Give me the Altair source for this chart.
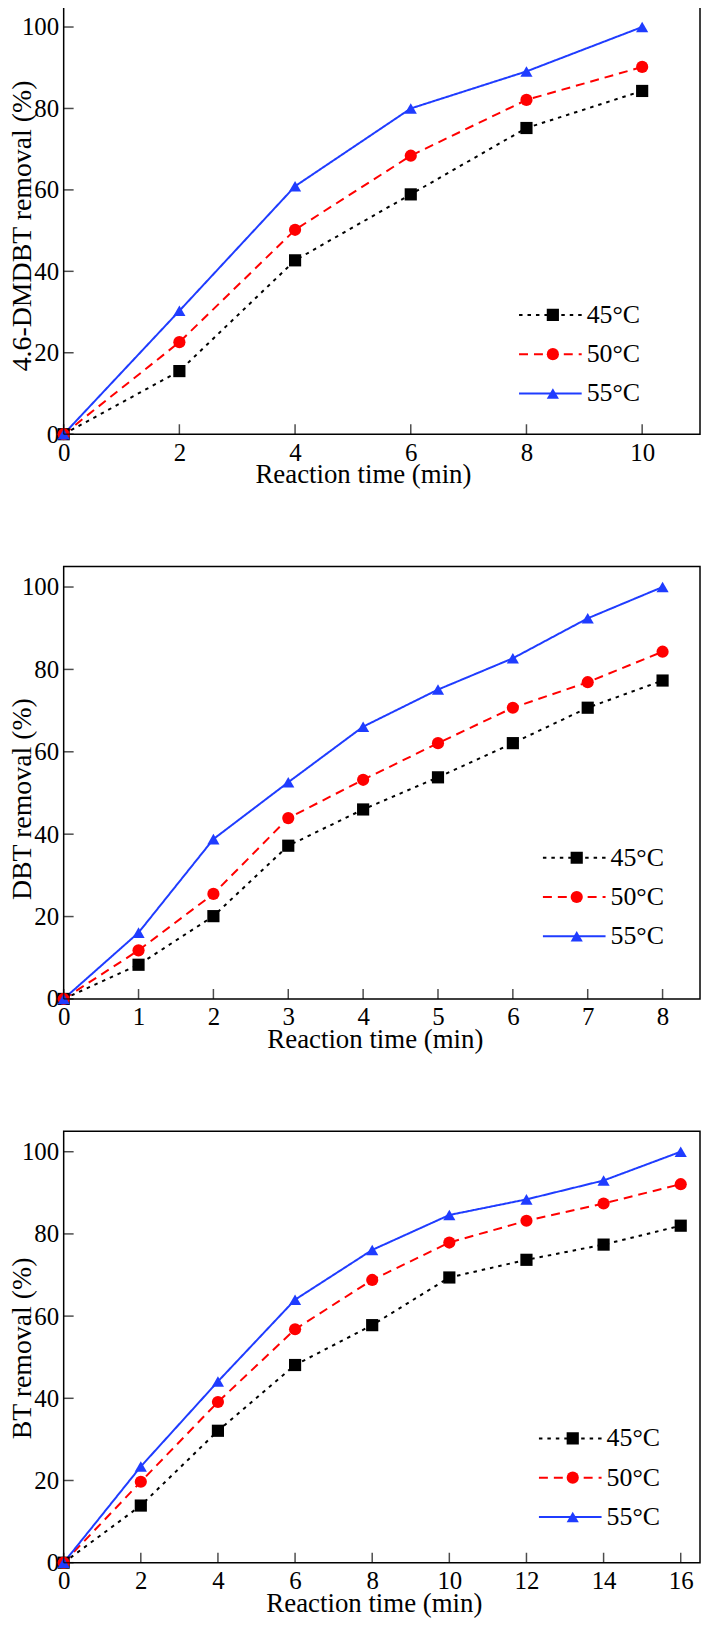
import altair as alt
import pandas as pd

series = ["45°C", "50°C", "55°C"]

# Panel 1: 4.6-DMDBT
time_1 = [0, 2, 4, 6, 8, 10]
dmdbt_45 = [0, 15.5, 42.7, 58.9, 75.2, 84.3]
dmdbt_50 = [0, 22.6, 50.2, 68.4, 82.1, 90.2]
dmdbt_55 = [0, 30.3, 60.9, 80.0, 89.1, 100.0]

# Panel 2: DBT
time_2 = [0, 1, 2, 3, 4, 5, 6, 7, 8]
dbt_45 = [0, 8.3, 20.1, 37.2, 46.0, 53.8, 62.1, 70.7, 77.3]
dbt_50 = [0, 11.8, 25.5, 43.9, 53.2, 62.1, 70.7, 76.9, 84.3]
dbt_55 = [0, 16.1, 38.8, 52.6, 66.1, 75.1, 82.7, 92.4, 100.0]

# Panel 3: BT
time_3 = [0, 2, 4, 6, 8, 10, 12, 14, 16]
bt_45 = [0, 13.9, 32.1, 48.1, 57.8, 69.4, 73.7, 77.4, 82.0]
bt_50 = [0, 19.7, 39.1, 56.8, 68.8, 77.9, 83.2, 87.4, 92.1]
bt_55 = [0, 23.4, 44.1, 64.0, 76.1, 84.6, 88.4, 93.0, 100.0]

x_ticks_1 = [0, 2, 4, 6, 8, 10]
x_ticks_2 = [0, 1, 2, 3, 4, 5, 6, 7, 8]
x_ticks_3 = [0, 2, 4, 6, 8, 10, 12, 14, 16]
y_ticks = [0, 20, 40, 60, 80, 100]

x_title = "Reaction time (min)"
y_title_1 = "4.6-DMDBT removal (%)"
y_title_2 = "DBT removal (%)"
y_title_3 = "BT removal (%)"

COLORS = ["#000000", "#ff0000", "#1f3cff"]
DASHES = [[3.5, 5], [9, 6], [1, 0]]
SHAPES = ["square", "circle", "triangle-up"]
FONT = "Liberation Serif"
W = 640


def panel(times, vals, xticks, x_max, ytitle, H, lx, ly, title_x, title_y_shift):
    rows = []
    for s, v in zip(series, vals):
        for t, y in zip(times, v):
            rows.append({"time": t, "removal": y, "Series": s, "Marker": s})
    df = pd.DataFrame(rows)

    xscale = alt.Scale(domain=[0, x_max], nice=False, zero=False)
    yscale = alt.Scale(domain=[0, 105], nice=False)

    xaxis = alt.Axis(values=xticks, title=x_title, tickSize=0, domain=False, grid=False,
                     labelFlush=False, labelOverlap=False, labelPadding=6,
                     labelFont=FONT, labelFontSize=25, labelColor="black",
                     titleFont=FONT, titleFontSize=27, titleFontWeight="normal", titleColor="black",
                     titleX=title_x, titleY=49, titleBaseline="alphabetic")
    yaxis = alt.Axis(values=y_ticks, title=ytitle, tickSize=0, domain=False, grid=False,
                     labelFlush=False, labelOverlap=False, labelPadding=5,
                     labelFont=FONT, labelFontSize=25, labelColor="black",
                     titleFont=FONT, titleFontSize=28, titleFontWeight="normal", titleColor="black",
                     titleX=-33, titleY=H / 2 + title_y_shift, titleBaseline="alphabetic")

    line_leg = alt.Legend(title=None, orient="none", legendX=lx, legendY=ly,
                          symbolType="stroke", symbolSize=3969, symbolStrokeWidth=2,
                          labelFont=FONT, labelFontSize=26, labelColor="black", labelLimit=300,
                          labelOffset=4, clipHeight=26, rowPadding=13.5, padding=0)
    pt_leg = alt.Legend(title=None, orient="none", legendX=lx + 22, legendY=ly,
                        symbolSize=150, symbolStrokeWidth=0, labelExpr="''",
                        labelFont=FONT, labelFontSize=26, labelLimit=300,
                        labelOffset=0, clipHeight=26, rowPadding=13.5, padding=0)

    base = alt.Chart(df)
    lines = base.mark_line(strokeWidth=2, strokeCap="butt").encode(
        x=alt.X("time:Q", scale=xscale, axis=xaxis),
        y=alt.Y("removal:Q", scale=yscale, axis=yaxis),
        stroke=alt.Stroke("Series:N", scale=alt.Scale(domain=series, range=COLORS), legend=line_leg),
        strokeDash=alt.StrokeDash("Series:N", scale=alt.Scale(domain=series, range=DASHES), legend=line_leg),
    )
    points = base.mark_point(filled=True, opacity=1, size=150).encode(
        x=alt.X("time:Q", scale=xscale, axis=xaxis),
        y=alt.Y("removal:Q", scale=yscale, axis=yaxis),
        fill=alt.Fill("Marker:N", scale=alt.Scale(range=COLORS), legend=pt_leg),
        shape=alt.Shape("Marker:N", scale=alt.Scale(range=SHAPES), legend=pt_leg),
    )
    xt = alt.Chart(pd.DataFrame({"time": xticks})).mark_tick(
        orient="vertical", size=10, thickness=1.5, color="black"
    ).encode(x=alt.X("time:Q", scale=xscale, axis=xaxis), y=alt.value(H - 5))
    yt = alt.Chart(pd.DataFrame({"removal": y_ticks})).mark_tick(
        orient="horizontal", size=10, thickness=1.5, color="black"
    ).encode(y=alt.Y("removal:Q", scale=yscale, axis=yaxis), x=alt.value(5))

    return alt.layer(lines, points, xt, yt).properties(width=W, height=H)


p1 = panel(time_1, [dmdbt_45, dmdbt_50, dmdbt_55], x_ticks_1, 11, y_title_1, 430, 457, 297, 301, 5)
p2 = panel(time_2, [dbt_45, dbt_50, dbt_55], x_ticks_2, 8.5, y_title_2, 435, 481, 280, 313, 16)
p3 = panel(time_3, [bt_45, bt_50, bt_55], x_ticks_3, 16.5, y_title_3, 434, 477, 296, 312, 1)

chart = alt.vconcat(p1, p2, p3, spacing=77).resolve_scale(
    x="independent", y="independent", stroke="independent", strokeDash="independent",
    fill="independent", shape="independent"
).resolve_legend(
    stroke="independent", strokeDash="independent", fill="independent", shape="independent"
).properties(
    padding={"top": -7, "left": 0, "right": 0, "bottom": 0}, background="white"
).configure_view(stroke="black", strokeWidth=1.5)

chart.save("out.html", embed_options={"renderer": "svg", "actions": False})
